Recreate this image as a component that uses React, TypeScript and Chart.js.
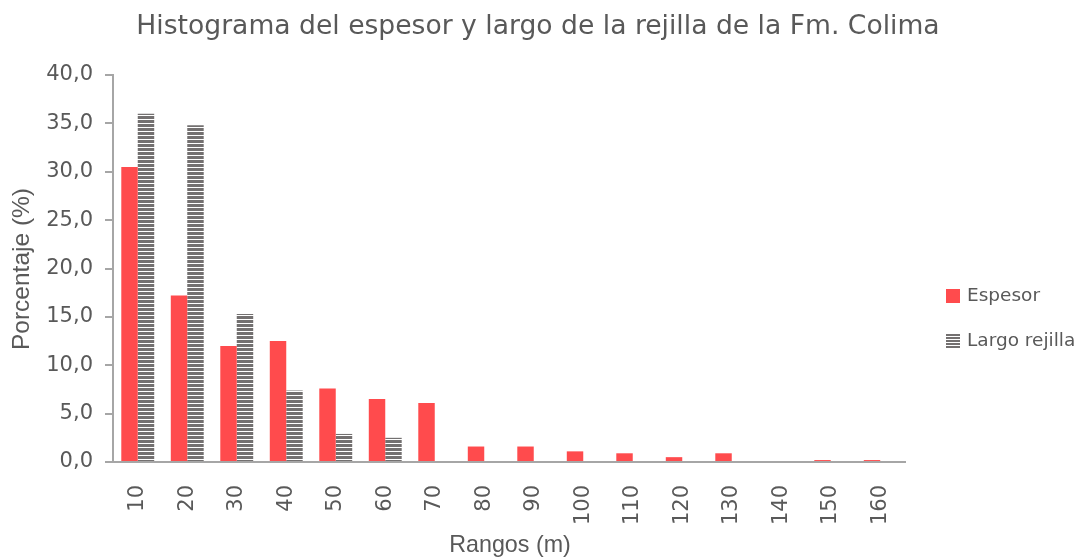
import React, { useEffect, useRef } from 'react';
import { Chart, registerables } from 'chart.js';

Chart.register(...registerables);

const categories = ['10', '20', '30', '40', '50', '60', '70', '80', '90', '100', '110', '120', '130', '140', '150', '160'];
const espesor = [30.5, 17.2, 12.0, 12.5, 7.6, 6.5, 6.1, 1.6, 1.6, 1.1, 0.9, 0.5, 0.9, 0, 0.2, 0.2];
const largoRejilla = [36.0, 34.8, 15.3, 7.4, 2.9, 2.5, 0, 0, 0, 0, 0, 0, 0, 0, 0, 0];
const seriesNames = ['Espesor', 'Largo rejilla'];
const chartTitle = 'Histograma del espesor y largo de la rejilla de la Fm. Colima';
const xTitle = 'Rangos (m)';
const yTitle = 'Porcentaje (%)';

const RED = '#FF4B4D';
const STRIPE = '#737070';
const TEXT = '#595959';
const AXIS = '#A6A6A6';

function makeStripePattern(ctx: CanvasRenderingContext2D) {
  const c = document.createElement('canvas');
  c.width = 4;
  c.height = 4;
  const p = c.getContext('2d')!;
  p.fillStyle = '#ffffff';
  p.fillRect(0, 0, 4, 4);
  p.fillStyle = STRIPE;
  p.fillRect(0, 0, 4, 3);
  return ctx.createPattern(c, 'repeat')!;
}

export default function App() {
  const ref = useRef<HTMLCanvasElement | null>(null);

  useEffect(() => {
    const canvas = ref.current!;
    const ctx = canvas.getContext('2d')!;
    const pattern = makeStripePattern(ctx);

    const decor = {
      id: 'decor',
      afterDraw(chart: any) {
        const c = chart.ctx as CanvasRenderingContext2D;
        c.save();
        c.fillStyle = TEXT;
        c.textBaseline = 'middle';
        // title
        c.textAlign = 'center';
        c.font = '26.6px "DejaVu Sans"';
        c.fillText(chartTitle, 538, 27);
        // x title
        c.save();
        c.translate(510, 545);
        c.scale(0.97, 1);
        c.font = '24px "Liberation Sans"';
        c.fillText(xTitle, 0, 0);
        c.restore();
        // y title
        c.save();
        c.translate(22, 269);
        c.rotate(-Math.PI / 2);
        c.font = '24.5px "Liberation Sans"';
        c.fillText(yTitle, 0, 0);
        c.restore();
        // legend
        c.textAlign = 'left';
        c.font = '18.5px "DejaVu Sans"';
        c.fillStyle = RED;
        c.fillRect(946, 289, 14, 14);
        c.fillStyle = TEXT;
        c.fillText(seriesNames[0], 967, 296);
        c.fillStyle = STRIPE;
        for (let i = 0; i < 5; i++) c.fillRect(946, 334 + i * 3, 14, 2);
        c.fillStyle = TEXT;
        c.fillText(seriesNames[1], 967, 341);
        c.restore();
      },
    };

    const chart = new Chart(canvas, {
      type: 'bar',
      data: {
        labels: categories,
        datasets: [
          { label: seriesNames[0], data: espesor, backgroundColor: RED, borderWidth: 0 },
          { label: seriesNames[1], data: largoRejilla, backgroundColor: pattern as any, borderWidth: 0 },
        ],
      },
      options: {
        responsive: false,
        animation: false,
        devicePixelRatio: 1,
        layout: { padding: { top: 75, right: 176, bottom: 0, left: 0 } },
        datasets: { bar: { categoryPercentage: 0.665, barPercentage: 1 } },
        plugins: { legend: { display: false }, title: { display: false }, tooltip: { enabled: false } },
        scales: {
          x: {
            grid: { display: false },
            border: { display: true, color: AXIS, width: 2 },
            ticks: {
              autoSkip: false,
              minRotation: 90,
              maxRotation: 90,
              padding: 15,
              color: TEXT,
              font: { family: 'DejaVu Sans', size: 21 },
            },
            afterFit(scale: any) {
              scale.height = 95;
            },
          },
          y: {
            min: 0,
            max: 40,
            grid: { drawOnChartArea: false, drawTicks: true, tickLength: 8, color: AXIS, lineWidth: 2 },
            border: { display: true, color: AXIS, width: 2 },
            ticks: {
              stepSize: 5,
              padding: 12,
              color: TEXT,
              font: { family: 'DejaVu Sans', size: 21 },
              callback: (v: any) => Number(v).toFixed(1).replace('.', ','),
            },
            afterFit(scale: any) {
              scale.width = 113;
            },
          },
        },
      },
      plugins: [decor],
    });
    return () => chart.destroy();
  }, []);

  return (
    <div style={{ position: 'fixed', left: 0, top: 0, width: 1081, height: 557, background: '#fff' }}>
      <canvas ref={ref} width={1081} height={557} style={{ display: 'block', width: 1081, height: 557 }} />
    </div>
  );
}
